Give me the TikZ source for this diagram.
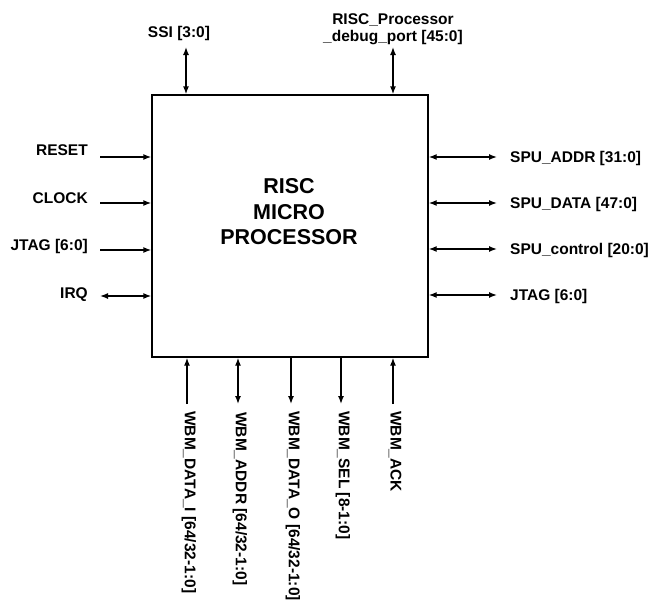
\documentclass[tikz,border=0pt]{standalone}
\usepackage{fontspec}
\setmainfont{Liberation Sans}
\usetikzlibrary{arrows.meta}
\begin{document}
\begin{tikzpicture}[x=1pt,y=-1pt,
  sig/.style={line width=1.4pt},
  into/.style={sig,-{Latex[length=8pt,width=6pt]}},
  both/.style={sig,{Latex[length=8pt,width=6pt]}-{Latex[length=8pt,width=6pt]}},
  lab/.style={font=\bfseries\fontsize{15.5}{18}\selectfont, inner sep=0pt},
  blk/.style={draw, line width=1.4pt, minimum width=276pt, minimum height=262pt, inner sep=0pt},
]
\useasboundingbox (0,0) rectangle (654,608);
% main block
\node[blk] (cpu) at (290,226) {};
\node[font=\bfseries\fontsize{21.5}{25.5}\selectfont, align=center, inner sep=0pt] (title) at (289,212) {RISC\\MICRO\\PROCESSOR};

% top ports
\coordinate (ssi) at (186,47);
\coordinate (dbg) at (393,47);
\draw[both] (ssi) -- (ssi |- cpu.north);
\draw[both] (dbg) -- (dbg |- cpu.north);
\node[lab] (tssi) at (179,33) {SSI [3:0]};
\node[lab, align=center, font=\bfseries\fontsize{15.5}{16.5}\selectfont] (tdbg) at (393,29) {RISC\_Processor\\\_debug\_port [45:0]};

% left ports
\coordinate (lreset) at (100,157);
\coordinate (lclock) at (100,203);
\coordinate (ljtag) at (100,250);
\coordinate (lirq) at (100,296);
\draw[into] (lreset) -- (lreset -| cpu.west);
\draw[into] (lclock) -- (lclock -| cpu.west);
\draw[into] (ljtag) -- (ljtag -| cpu.west);
\draw[both] (lirq) -- (lirq -| cpu.west);
\node[lab, anchor=base east] (treset) at (88,155) {RESET};
\node[lab, anchor=base east] (tclock) at (88,203) {CLOCK};
\node[lab, anchor=base east] (tjtagl) at (88,250) {JTAG [6:0]};
\node[lab, anchor=base east] (tirq) at (88,298) {IRQ};

% right ports
\coordinate (raddr) at (497,157);
\coordinate (rdata) at (497,203);
\coordinate (rctrl) at (497,249);
\coordinate (rjtag) at (497,295);
\draw[both] (raddr -| cpu.east) -- (raddr);
\draw[both] (rdata -| cpu.east) -- (rdata);
\draw[both] (rctrl -| cpu.east) -- (rctrl);
\draw[both] (rjtag -| cpu.east) -- (rjtag);
\node[lab, anchor=base west] (taddr) at (510,162.5) {SPU\_ADDR [31:0]};
\node[lab, anchor=base west] (tdata) at (510,208.5) {SPU\_DATA [47:0]};
\node[lab, anchor=base west] (tctrl) at (510,254.5) {SPU\_control [20:0]};
\node[lab, anchor=base west] (tjtagr) at (510,300.5) {JTAG [6:0]};

% bottom ports
\coordinate (bdi) at (187,404);
\coordinate (bad) at (238,404);
\coordinate (bdo) at (291,404);
\coordinate (bsel) at (341,404);
\coordinate (back) at (393,404);
\draw[into] (bdi) -- (bdi |- cpu.south);
\draw[both] (bad) -- (bad |- cpu.south);
\draw[into] (bdo |- cpu.south) -- (bdo);
\draw[into] (bsel |- cpu.south) -- (bsel);
\draw[into] (back) -- (back |- cpu.south);
\node[lab, rotate=-90, anchor=west] (tdi) at (189,411) {WBM\_DATA\_I [64/32-1:0]};
\node[lab, rotate=-90, anchor=west] (tad) at (240,412) {WBM\_ADDR [64/32-1:0]};
\node[lab, rotate=-90, anchor=west] (tdo) at (293,411) {WBM\_DATA\_O [64/32-1:0]};
\node[lab, rotate=-90, anchor=west] (tsel) at (343,411) {WBM\_SEL [8-1:0]};
\node[lab, rotate=-90, anchor=west] (tack) at (395,411) {WBM\_ACK};
\end{tikzpicture}
\end{document}
